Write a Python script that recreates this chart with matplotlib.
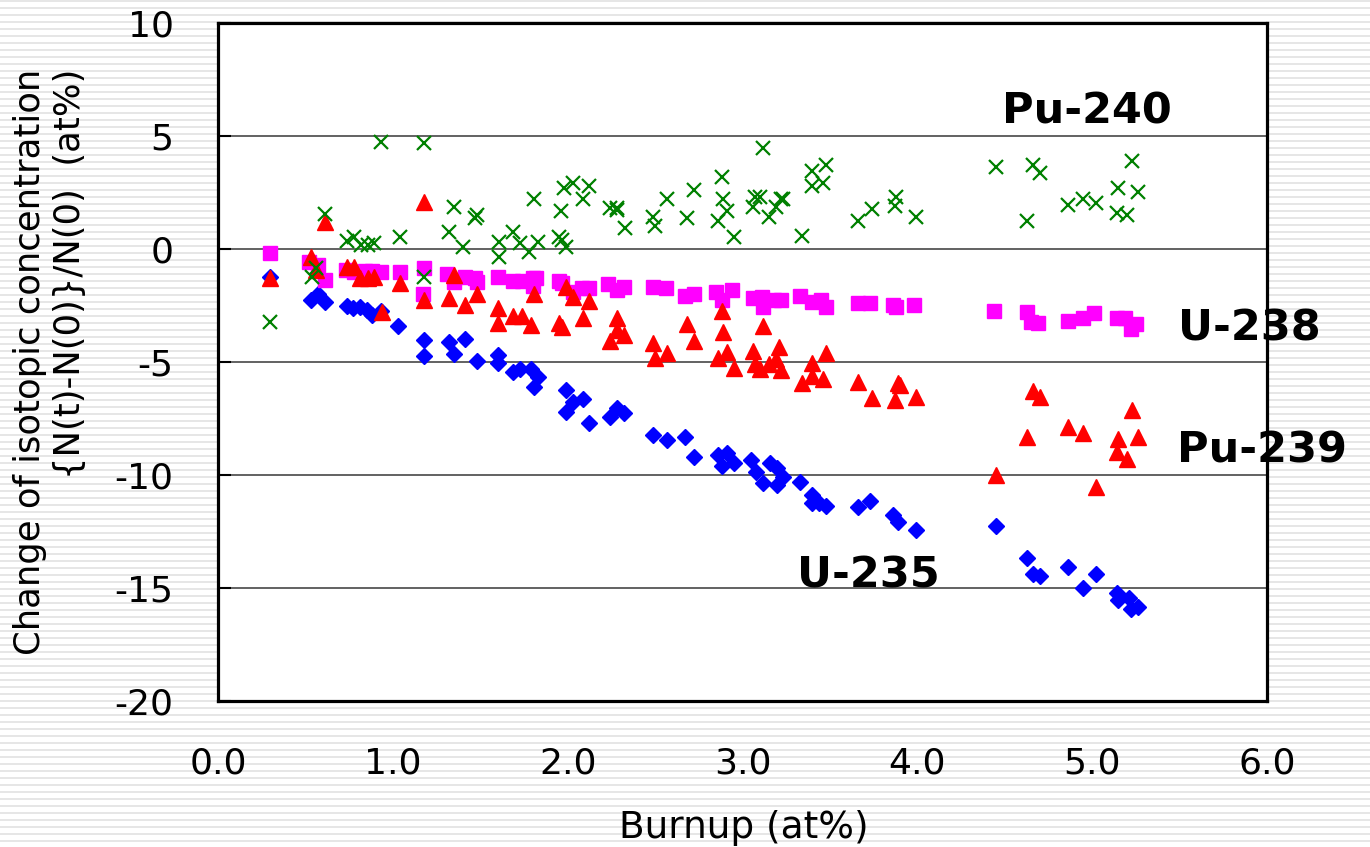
import numpy as np
import matplotlib
matplotlib.use('Agg')
import matplotlib.pyplot as plt

# U-235 (blue diamonds)
u235_x = [0.30, 0.53, 0.57, 0.61, 0.74, 0.77, 0.81, 0.85, 0.88, 0.93, 1.03, 1.18, 1.18, 1.32, 1.35,
          1.41, 1.48, 1.60, 1.60, 1.69, 1.73, 1.79, 1.83, 1.81, 1.99, 2.03, 2.09, 1.99, 2.12, 2.24,
          2.28, 2.32, 2.49, 2.57, 2.67, 2.72, 2.86, 2.91, 2.88, 2.95, 3.05, 3.08, 3.12, 3.16, 3.20,
          3.23, 3.20, 3.33, 3.40, 3.40, 3.44, 3.48, 3.66, 3.73, 3.86, 3.89, 3.99, 4.45, 4.63, 4.66,
          4.70, 4.86, 4.95, 5.02, 5.14, 5.15, 5.21, 5.22, 5.26]
u235_y = [-1.24, -2.26, -1.99, -2.35, -2.53, -2.61, -2.57, -2.70, -2.92, -2.75, -3.41, -4.03, -4.74, -4.12, -4.65,
          -3.99, -4.96, -4.70, -5.05, -5.45, -5.32, -5.32, -5.67, -6.11, -6.25, -6.78, -6.65, -7.22, -7.71, -7.44,
          -7.04, -7.27, -8.24, -8.46, -8.33, -9.22, -9.13, -9.04, -9.61, -9.48, -9.35, -9.88, -10.37, -9.48, -9.70,
          -10.10, -10.46, -10.32, -10.90, -11.25, -11.25, -11.39, -11.43, -11.17, -11.79, -12.10, -12.45, -12.27, -13.69, -14.36,
          -14.49, -14.05, -14.98, -14.36, -15.20, -15.51, -15.46, -15.95, -15.86]

# U-238 (magenta squares)
u238_x = [0.30, 0.52, 0.57, 0.61, 0.73, 0.78, 0.84, 0.88, 0.93, 1.04, 1.18, 1.17, 1.31, 1.35, 1.41,
          1.47, 1.48, 1.60, 1.69, 1.74, 1.80, 1.82, 1.80, 1.95, 1.97, 2.03, 2.08, 2.12, 2.23, 2.28,
          2.32, 2.49, 2.56, 2.67, 2.72, 2.85, 2.88, 2.94, 3.06, 3.11, 3.12, 3.18, 3.22, 3.33, 3.40,
          3.45, 3.48, 3.66, 3.73, 3.86, 3.88, 3.98, 4.44, 4.63, 4.65, 4.69, 4.86, 4.95, 5.01, 5.14,
          5.19, 5.22, 5.25]
u238_y = [-0.18, -0.58, -0.71, -1.37, -0.93, -1.02, -0.97, -0.97, -1.02, -1.02, -0.84, -1.97, -1.11, -1.46, -1.26,
          -1.28, -1.46, -1.24, -1.42, -1.42, -1.28, -1.28, -1.64, -1.42, -1.51, -1.91, -1.73, -1.73, -1.53, -1.82,
          -1.66, -1.68, -1.73, -2.08, -1.99, -1.91, -2.26, -1.82, -2.17, -2.13, -2.57, -2.26, -2.26, -2.08, -2.35,
          -2.26, -2.57, -2.39, -2.39, -2.48, -2.57, -2.48, -2.75, -2.79, -3.23, -3.28, -3.19, -3.06, -2.84, -3.06,
          -3.06, -3.54, -3.32]

# Pu-239 (red triangles)
pu239_x = [0.30, 0.53, 0.56, 0.61, 0.74, 0.78, 0.81, 0.86, 0.89, 0.94, 1.04, 1.18, 1.18, 1.32, 1.35,
           1.41, 1.48, 1.60, 1.60, 1.69, 1.74, 1.79, 1.81, 1.95, 1.99, 2.03, 2.09, 2.12, 2.28, 1.97,
           2.24, 2.28, 2.32, 2.49, 2.50, 2.57, 2.68, 2.72, 2.88, 2.89, 2.86, 2.91, 2.95, 3.12, 3.06,
           3.07, 3.10, 3.15, 3.19, 3.21, 3.22, 3.34, 3.40, 3.40, 3.46, 3.48, 3.66, 3.74, 3.89, 3.87,
           3.90, 3.99, 4.45, 4.63, 4.66, 4.70, 4.86, 4.95, 5.02, 5.15, 5.14, 5.20, 5.23, 5.26]
pu239_y = [-1.28, -0.35, -0.93, 1.20, -0.80, -0.80, -1.28, -1.28, -1.24, -2.79, -1.51, 2.08, -2.26, -2.19, -1.13,
           -2.48, -1.99, -2.61, -3.28, -2.97, -2.97, -3.37, -1.99, -3.28, -1.68, -2.13, -3.06, -2.30, -3.06, -3.46,
           -4.08, -3.59, -3.81, -4.16, -4.83, -4.61, -3.32, -4.08, -2.75, -3.68, -4.83, -4.56, -5.27, -3.41, -4.52,
           -5.10, -5.32, -5.10, -4.87, -4.34, -5.36, -5.94, -5.05, -5.63, -5.76, -4.61, -5.89, -6.60, -5.94, -6.69,
           -6.03, -6.56, -10.01, -8.33, -6.29, -6.56, -7.89, -8.15, -10.55, -8.42, -8.99, -9.30, -7.13, -8.33]

# Pu-240 (green crosses)
pu240_x = [0.30, 0.54, 0.56, 0.61, 0.74, 0.78, 0.82, 0.86, 0.89, 1.04, 1.18, 1.32, 1.35, 1.40, 0.93,
           1.18, 1.47, 1.48, 1.81, 1.61, 1.61, 1.69, 1.73, 1.78, 1.83, 1.95, 1.98, 1.96, 1.97, 2.03,
           2.12, 2.09, 1.99, 2.24, 2.28, 2.28, 2.33, 2.49, 2.50, 2.57, 2.68, 2.72, 2.86, 2.88, 2.89,
           2.91, 2.95, 3.06, 3.07, 3.10, 3.12, 3.15, 3.19, 3.22, 3.23, 3.34, 3.40, 3.40, 3.46, 3.48,
           3.66, 3.74, 3.87, 3.88, 3.99, 4.45, 4.63, 4.66, 4.70, 4.86, 4.95, 5.02, 5.14, 5.15, 5.20,
           5.23, 5.26]
pu240_y = [-3.23, -1.24, -0.84, 1.55, 0.35, 0.53, 0.18, 0.18, 0.27, 0.53, -1.24, 0.75, 1.86, 0.09, 4.74,
           4.70, 1.37, 1.51, 2.22, 0.31, -0.35, 0.75, 0.27, -0.13, 0.31, 0.53, 2.70, 1.68, 0.40, 2.92,
           2.79, 2.22, 0.09, 1.82, 1.73, 1.82, 0.93, 1.42, 1.02, 2.22, 1.37, 2.61, 1.24, 3.19, 2.22,
           1.68, 0.53, 1.86, 2.30, 2.30, 4.47, 1.42, 1.86, 2.22, 2.22, 0.58, 3.46, 2.79, 2.92, 3.72,
           1.24, 1.77, 1.91, 2.30, 1.42, 3.63, 1.24, 3.72, 3.37, 1.95, 2.22, 2.04, 1.60, 2.70, 1.51,
           3.90, 2.53]

labels = ['U-235', 'U-238', 'Pu-239', 'Pu-240']
label_pos = [(3.72, -14.44), (5.90, -3.5), (5.97, -8.9), (4.97, 6.07)]

plt.rcParams['font.family'] = ['DejaVu Sans']
plt.rcParams['axes.unicode_minus'] = False

fig = plt.figure(figsize=(13.7, 8.47), dpi=100)
fig.patch.set_facecolor('white')

# striped slide background
bg = fig.add_axes([0, 0, 1, 1], zorder=-10)
bg.set_xlim(0, 1370)
bg.set_ylim(847, 0)
bg.axis('off')
bg.hlines(np.arange(1.5, 847, 7), 0, 1370, color='#e2e2e2', lw=1.2)

ax = fig.add_axes([218 / 1370, 1 - 701 / 847, (1267 - 218) / 1370, (701 - 23) / 847])
ax.set_facecolor('white')

ax.plot(u235_x, u235_y, 'D', color='#0000ff', ms=8, mec='#0000ff', zorder=3)
ax.plot(u238_x, u238_y, 's', color='#ff00ff', ms=9.5, mec='#ff00ff', zorder=4)
ax.plot(pu239_x, pu239_y, '^', color='#ff0000', ms=11, mec='#ff0000', zorder=5)
ax.plot(pu240_x, pu240_y, 'x', color='#008000', ms=10.5, mew=1.6, zorder=6)

ax.set_xlim(0, 6)
ax.set_ylim(-20, 10)
ax.set_xticks(np.arange(0, 6.1, 1.0))
ax.set_xticklabels(['%.1f' % v for v in np.arange(0, 6.1, 1.0)])
ax.set_yticks(np.arange(-20, 11, 5))
ax.yaxis.grid(True, color='#555555', lw=1.3)
ax.set_axisbelow(True)
ax.tick_params(axis='y', direction='in', length=9, width=1.5, pad=32, labelsize=26)
ax.tick_params(axis='x', length=0, pad=33, labelsize=26)
for s in ax.spines.values():
    s.set_linewidth(2.3)
    s.set_color('black')
    s.set_zorder(10)

for lab, (lx, ly) in zip(labels, label_pos):
    ax.text(lx, ly, lab, fontsize=31, fontweight='bold', ha='center', va='center',
            clip_on=False, zorder=8)

fig.text(744 / 1370, 1 - 828 / 847, 'Burnup (at%)', fontsize=27, ha='center', va='center')
fig.text(50 / 1370, 1 - 362 / 847,
         'Change of isotopic concentration\n{N(t)-N(0)}/N(0)  (at%)',
         fontsize=25.5, rotation=90, ha='center', va='center', multialignment='right',
         linespacing=1.2)

fig.savefig('out.png', dpi=100, facecolor='white')
